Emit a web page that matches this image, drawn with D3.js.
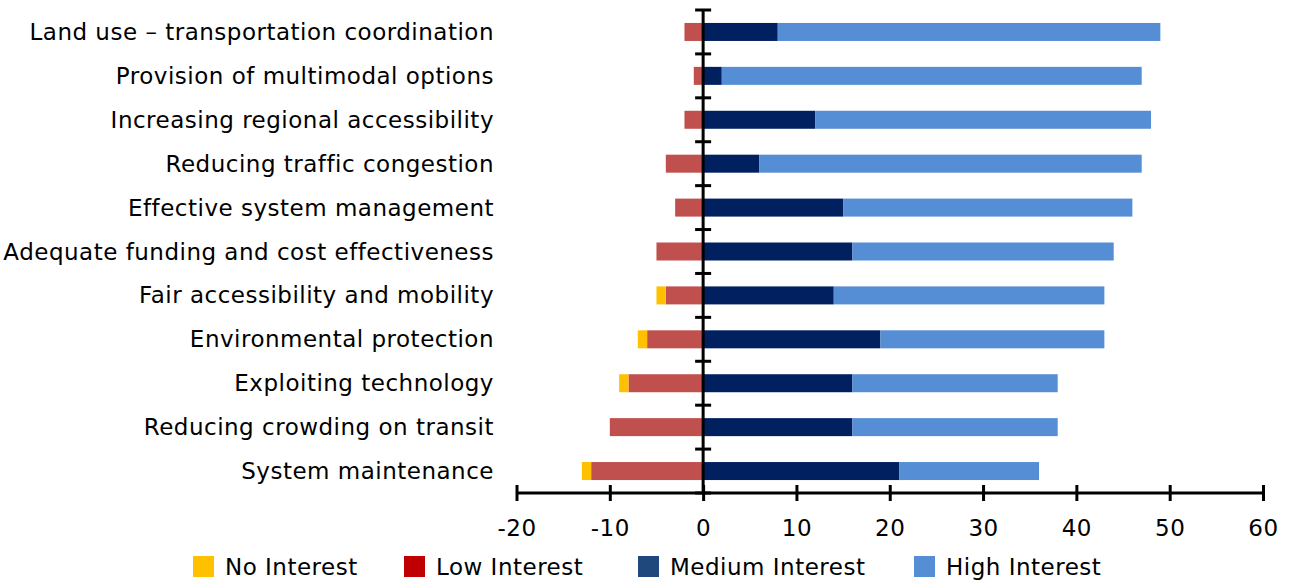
<!DOCTYPE html>
<html>
<head>
<meta charset="utf-8">
<script src="https://d3js.org/d3.v7.min.js"></script>
<style>
	body { margin: 0; background: #fff; }
	text { font-family: "DejaVu Sans", Verdana, sans-serif; fill: #000; letter-spacing: 0.5px; }
</style>
</head>
<body>
<div id="grafico"></div>
<script>
	// datos
	const categorias = [
		"Land use \u2013 transportation coordination",
		"Provision of multimodal options",
		"Increasing regional accessibility",
		"Reducing traffic congestion",
		"Effective system management",
		"Adequate funding and cost effectiveness",
		"Fair accessibility and mobility",
		"Environmental protection",
		"Exploiting technology",
		"Reducing crowding on transit",
		"System maintenance"
	];
	const noInterest     = [0, 0, 0, 0, 0, 0, 1, 1, 1, 0, 1];
	const lowInterest    = [2, 1, 2, 4, 3, 5, 4, 6, 8, 10, 12];
	const mediumInterest = [8, 2, 12, 6, 15, 16, 14, 19, 16, 16, 21];
	const highInterest   = [41, 45, 36, 41, 31, 28, 29, 24, 22, 22, 15];
	const ticksX = [-20, -10, 0, 10, 20, 30, 40, 50, 60];
	const series = ["No Interest", "Low Interest", "Medium Interest", "High Interest"];

	const ancho = 1292, alto = 586;
	const tamLetra = "23px";
	const colorBarra = {
		"No Interest": "#FFC000",
		"Low Interest": "#C0504D",
		"Medium Interest": "#002060",
		"High Interest": "#558ED5"
	};
	const colorLeyenda = {
		"No Interest": "#FFC000",
		"Low Interest": "#C00000",
		"Medium Interest": "#1F497D",
		"High Interest": "#558ED5"
	};

	// filas con los negativos a la izquierda
	const filas = categorias.map((c, i) => ({
		cat: c,
		"Low Interest": -lowInterest[i],
		"No Interest": -noInterest[i],
		"Medium Interest": mediumInterest[i],
		"High Interest": highInterest[i]
	}));

	const pila = d3.stack()
		.keys(["Low Interest", "No Interest", "Medium Interest", "High Interest"])
		.offset(d3.stackOffsetDiverging)(filas);

	const svg = d3.select("#grafico").append("svg")
		.attr("width", ancho)
		.attr("height", alto);

	const x = d3.scaleLinear().domain([-20, 60]).range([516.5, 1263]);
	const y = d3.scaleBand().domain(categorias).range([10, 493]).paddingInner(0.59).paddingOuter(0.295);

	// barras
	svg.append("g").selectAll("g")
		.data(pila)
		.join("g")
		.attr("fill", d => colorBarra[d.key])
		.selectAll("rect")
		.data(d => d)
		.join("rect")
		.attr("x", d => x(Math.min(d[0], d[1])))
		.attr("y", d => y(d.data.cat))
		.attr("width", d => Math.abs(x(d[1]) - x(d[0])))
		.attr("height", y.bandwidth());

	// etiquetas de categoria
	svg.append("g").selectAll("text")
		.data(categorias)
		.join("text")
		.attr("x", 494)
		.attr("y", d => y(d) + y.bandwidth() / 2)
		.attr("dy", "0.35em")
		.attr("text-anchor", "end")
		.style("font-size", tamLetra)
		.text(d => d);

	// eje vertical en cero
	const paso = y.step();
	const bordes = d3.range(categorias.length + 1).map(i => 10 + i * paso);
	svg.append("line")
		.attr("x1", x(0)).attr("x2", x(0))
		.attr("y1", 10).attr("y2", 493)
		.attr("stroke", "#000").attr("stroke-width", 3);
	svg.append("g").selectAll("line")
		.data(bordes)
		.join("line")
		.attr("x1", x(0) - 8).attr("x2", x(0) + 8)
		.attr("y1", d => d).attr("y2", d => d)
		.attr("stroke", "#000").attr("stroke-width", 3);

	// eje horizontal
	const ejeX = svg.append("g")
		.attr("transform", "translate(0,493)")
		.call(d3.axisBottom(x).tickValues(ticksX).tickSize(8).tickPadding(19).tickFormat(d3.format("d")));
	ejeX.select(".domain").attr("stroke", "#000").attr("stroke-width", 3)
		.attr("d", `M${x(-20)},0H${x(60)}`);
	ejeX.selectAll(".tick line").attr("y1", -8).attr("y2", 8).attr("stroke-width", 3);
	ejeX.selectAll(".tick text")
		.style("font-size", tamLetra)
		.style("font-family", "'DejaVu Sans', Verdana, sans-serif")
		.attr("fill", "#000")
		.text(d => d < 0 ? "-" + Math.abs(d) : d);

	// leyenda
	const posLeyenda = [193, 404, 638, 914];
	const ley = svg.append("g").selectAll("g")
		.data(series)
		.join("g")
		.attr("transform", (d, i) => `translate(${posLeyenda[i]},556)`);
	ley.append("rect")
		.attr("width", 21).attr("height", 21)
		.attr("fill", d => colorLeyenda[d]);
	ley.append("text")
		.attr("x", 32)
		.attr("y", 11)
		.attr("dy", "0.35em")
		.style("font-size", tamLetra)
		.text(d => d);
</script>
</body>
</html>
